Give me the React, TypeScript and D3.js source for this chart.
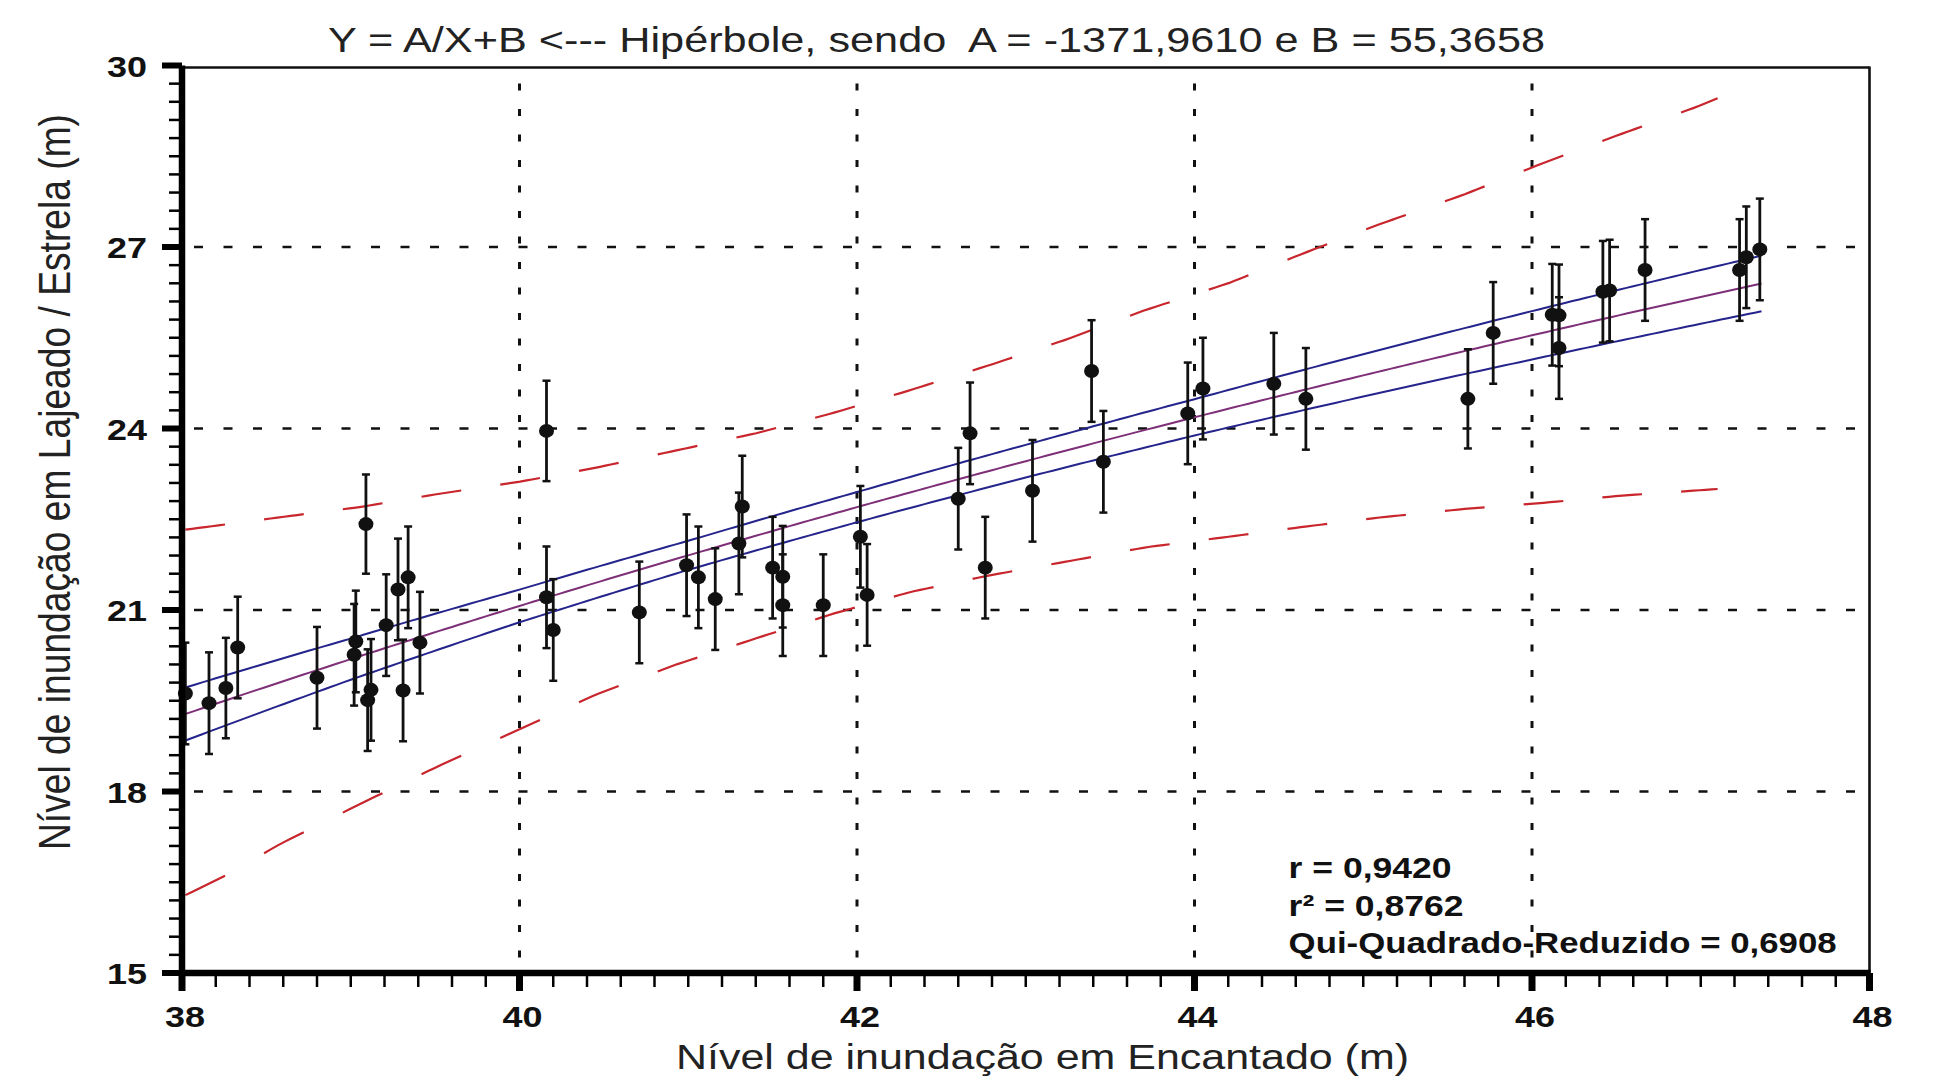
import React from 'react';
import * as d3 from 'd3';

const W = 1938;
const H = 1085;

// ---- data ----
const xTickValues = [38, 40, 42, 44, 46, 48];
const yTickValues = [15, 18, 21, 24, 27, 30];

const encantado = [
  38.02, 38.16, 38.26, 38.33, 38.8, 39.03, 39.02, 39.09, 39.1, 39.12,
  39.21, 39.28, 39.34, 39.31, 39.41, 40.16, 40.16, 40.2, 40.71, 40.99,
  41.06, 41.16, 41.32, 41.3, 41.5, 41.56, 41.56, 41.8, 42.02, 42.06,
  42.6, 42.67, 42.76, 43.04, 43.39, 43.46, 43.96, 44.05, 44.47, 44.66,
  45.62, 45.77, 46.12, 46.16, 46.16, 46.42, 46.46, 46.67, 47.23, 47.27,
  47.35,
];
const lajeado = [
  19.62, 19.46, 19.71, 20.38, 19.88, 20.48, 20.26, 22.42, 19.51, 19.68,
  20.75, 21.34, 21.54, 19.67, 20.46, 23.96, 21.21, 20.67, 20.96, 21.74,
  21.54, 21.18, 22.71, 22.1, 21.7, 21.55, 21.08, 21.08, 22.21, 21.25,
  22.84, 23.92, 21.7, 22.97, 24.95, 23.45, 24.25, 24.66, 24.74, 24.49,
  24.49, 25.58, 25.88, 25.87, 25.33, 26.26, 26.28, 26.62, 26.62, 26.83,
  26.96,
];
const errBars = [
  0.84, 0.84, 0.83, 0.84, 0.84, 0.84, 0.84, 0.82, 0.84, 0.84,
  0.84, 0.84, 0.84, 0.84, 0.84, 0.83, 0.84, 0.84, 0.84, 0.84,
  0.84, 0.84, 0.84, 0.84, 0.84, 0.84, 0.84, 0.84, 0.84, 0.84,
  0.84, 0.84, 0.84, 0.84, 0.84, 0.84, 0.84, 0.84, 0.84, 0.84,
  0.82, 0.84, 0.84, 0.84, 0.84, 0.84, 0.84, 0.84, 0.84, 0.84,
  0.84,
];

const fitA = -1371.961;
const fitB = 55.3658;
const fitXMin = 38;
const fitXMax = 47.36;

// confidence band half-width
const bandX = [38, 39, 40, 41, 42, 43, 44, 45, 46, 47.36];
const bandHalf = [0.44, 0.34, 0.27, 0.24, 0.25, 0.27, 0.3, 0.35, 0.4, 0.46];

// prediction band (red dashed)
const predUpperX = [38, 38.6, 39.05, 39.5, 40, 40.45, 40.9, 41.4, 41.85, 42.3, 42.8, 43.25, 43.7, 44.2, 44.65, 45.1, 45.6, 46.05, 46.5, 46.98, 47.1];
const predUpperY = [22.32, 22.54, 22.7, 22.91, 23.12, 23.35, 23.62, 23.92, 24.25, 24.62, 25.06, 25.48, 25.95, 26.4, 26.9, 27.38, 27.87, 28.37, 28.84, 29.32, 29.46];
const predLowerX = [38, 38.25, 38.58, 39.06, 39.52, 40, 40.45, 40.93, 41.4, 41.86, 42.32, 42.78, 43.26, 43.72, 44.2, 44.66, 45.1, 45.6, 46.06, 46.53, 47.1];
const predLowerY = [16.26, 16.6, 17.13, 17.8, 18.42, 19.03, 19.6, 20.1, 20.53, 20.94, 21.3, 21.57, 21.81, 22.04, 22.21, 22.38, 22.53, 22.67, 22.77, 22.89, 23.0];

const titleText = 'Y = A/X+B <--- Hipérbole, sendo  A = -1371,9610 e B = 55,3658';
const xLabel = 'Nível de inundação em Encantado (m)';
const yLabel = 'Nível de inundação em Lajeado / Estrela (m)';
const statLines = ['r = 0,9420', 'r² = 0,8762', 'Qui-Quadrado-Reduzido = 0,6908'];
const statWidths = [163, 175, 548];

const FONT = '"Liberation Sans", Arial, Helvetica, sans-serif';

export default function App() {
  const x = d3.scaleLinear().domain([38, 48]).range([182, 1869.5]);
  const y = d3.scaleLinear().domain([15, 30]).range([973, 65.5]);

  const left = x(38);
  const right = x(48);
  const top = y(30);
  const bottom = y(15);

  const fit = (v: number) => fitA / v + fitB;
  const halfW = d3.scaleLinear().domain(bandX).range(bandHalf);
  const upperP = d3.scaleLinear().domain(predUpperX).range(predUpperY);
  const lowerP = d3.scaleLinear().domain(predLowerX).range(predLowerY);

  const xs = d3.range(fitXMin, fitXMax + 1e-9, 0.04);
  const line = d3
    .line<[number, number]>()
    .x((d) => x(d[0]))
    .y((d) => y(d[1]));

  const fitPath = line(xs.map((v) => [v, fit(v)]));
  const upPath = line(xs.map((v) => [v, fit(v) + halfW(v)]));
  const loPath = line(xs.map((v) => [v, fit(v) - halfW(v)]));

  // red dashes in x-space
  const dashStarts = d3.range(38.02, 47.1, 0.4665);
  const dashLen = 0.235;
  const dashSegs = (f: (v: number) => number, xmax: number) =>
    dashStarts.map((s) => {
      const e = Math.min(s + dashLen, xmax);
      const pts = d3.range(0, 7).map((i) => {
        const v = s + ((e - s) * i) / 6;
        return [v, f(v)] as [number, number];
      });
      return line(pts);
    });
  const upperDashes = dashSegs(upperP, 47.1);
  const lowerDashes = dashSegs(lowerP, 47.1);

  const yMinor = d3.range(15, 30.0001, 0.3).filter((v) => !yTickValues.some((t) => Math.abs(t - v) < 1e-6));
  const xMinor = d3.range(38, 48.0001, 0.2).filter((v) => !xTickValues.some((t) => Math.abs(t - v) < 1e-6));

  const gridX = xTickValues.filter((v) => v > 38 && v < 48);
  const gridY = yTickValues.filter((v) => v > 15 && v < 30);

  const redColor = '#c8262c';
  const blueColor = '#24248c';
  const fitColor = '#7e2f78';

  return (
    <svg
      width={W}
      height={H}
      viewBox={`0 0 ${W} ${H}`}
      style={{ position: 'absolute', left: 0, top: 0, display: 'block', background: '#fff' }}
    >
      <rect x={0} y={0} width={W} height={H} fill="#fff" />
      <defs>
        <clipPath id="plotClip">
          <rect x={left} y={top} width={right - left} height={bottom - top} />
        </clipPath>
      </defs>

      {/* grid */}
      <g stroke="#111" fill="none">
        {gridY.map((v) => (
          <line key={'gy' + v} x1={left + 12} x2={right - 6} y1={y(v)} y2={y(v)} strokeWidth={2.6} strokeDasharray="9 20.5" />
        ))}
        {gridX.map((v) => (
          <line key={'gx' + v} x1={x(v)} x2={x(v)} y1={top + 18} y2={bottom} strokeWidth={3} strokeDasharray="7 18.5" />
        ))}
      </g>

      <g clipPath="url(#plotClip)" fill="none">
        {/* prediction band */}
        {upperDashes.map((d, i) => (
          <path key={'ud' + i} d={d || ''} stroke={redColor} strokeWidth={2.2} />
        ))}
        {lowerDashes.map((d, i) => (
          <path key={'ld' + i} d={d || ''} stroke={redColor} strokeWidth={2.2} />
        ))}
        {/* confidence band */}
        <path d={upPath || ''} stroke={blueColor} strokeWidth={2} />
        <path d={loPath || ''} stroke={blueColor} strokeWidth={2} />
        {/* fit */}
        <path d={fitPath || ''} stroke={fitColor} strokeWidth={2} />
      </g>

      {/* error bars and points */}
      <g stroke="#111" strokeWidth={2.8}>
        {encantado.map((xv, i) => {
          const cx = x(xv);
          const y1 = y(lajeado[i] + errBars[i]);
          const y2 = y(lajeado[i] - errBars[i]);
          return (
            <g key={'e' + i}>
              <line x1={cx} x2={cx} y1={y1} y2={y2} />
              <line x1={cx - 4} x2={cx + 4} y1={y1} y2={y1} strokeWidth={2.5} />
              <line x1={cx - 4} x2={cx + 4} y1={y2} y2={y2} strokeWidth={2.5} />
            </g>
          );
        })}
      </g>
      <g fill="#111">
        {encantado.map((xv, i) => (
          <ellipse key={'p' + i} cx={x(xv)} cy={y(lajeado[i])} rx={7.5} ry={7} />
        ))}
      </g>

      {/* frame */}
      <line x1={left} x2={right} y1={top + 2} y2={top + 2} stroke="#111" strokeWidth={2.6} />
      <line x1={right} x2={right} y1={top + 1} y2={bottom} stroke="#111" strokeWidth={2.6} />
      <line x1={left} x2={left} y1={top} y2={bottom + 3} stroke="#000" strokeWidth={6.5} />
      <line x1={left - 3} x2={right + 1} y1={bottom} y2={bottom} stroke="#000" strokeWidth={6.5} />

      {/* y ticks */}
      <g stroke="#000">
        {yMinor.map((v) => (
          <line key={'ym' + v} x1={left - 13} x2={left} y1={y(v)} y2={y(v)} strokeWidth={2.5} />
        ))}
        {yTickValues.map((v) => (
          <line key={'yM' + v} x1={left - 20} x2={left} y1={y(v)} y2={y(v)} strokeWidth={6} />
        ))}
        {xMinor.map((v) => (
          <line key={'xm' + v} x1={x(v)} x2={x(v)} y1={bottom} y2={bottom + 14} strokeWidth={2.5} />
        ))}
        {xTickValues.map((v) => (
          <line key={'xM' + v} x1={x(v)} x2={x(v)} y1={bottom} y2={bottom + 18} strokeWidth={7} />
        ))}
      </g>

      {/* tick labels */}
      <g fontFamily={FONT} fontWeight="bold" fontSize={30} fill="#111">
        {yTickValues.map((v) => (
          <text key={'yl' + v} x={left - 35} y={y(v) + 11} textAnchor="end" textLength={40} lengthAdjust="spacingAndGlyphs">
            {String(v)}
          </text>
        ))}
        {xTickValues.map((v) => (
          <text key={'xl' + v} x={x(v) + 3} y={1027} textAnchor="middle" textLength={40} lengthAdjust="spacingAndGlyphs">
            {String(v)}
          </text>
        ))}
      </g>

      {/* title */}
      <text
        x={328}
        y={52}
        fontFamily={FONT}
        fontSize={35}
        fill="#222"
        textLength={1217}
        lengthAdjust="spacingAndGlyphs"
        style={{ whiteSpace: 'pre' }}
      >
        {titleText}
      </text>

      {/* x label */}
      <text x={676} y={1069} fontFamily={FONT} fontSize={35} fill="#222" textLength={733} lengthAdjust="spacingAndGlyphs">
        {xLabel}
      </text>

      {/* y label */}
      <g transform="translate(70,482) scale(1.25,1) rotate(-90)">
        <text x={0} y={0} textAnchor="middle" fontFamily={FONT} fontSize={36} fill="#222" textLength={736} lengthAdjust="spacingAndGlyphs">
          {yLabel}
        </text>
      </g>

      {/* stats */}
      <g fontFamily={FONT} fontWeight="bold" fontSize={30} fill="#111">
        {statLines.map((s, i) => (
          <text key={'s' + i} x={1288.6} y={878 + i * 37.6} textLength={statWidths[i]} lengthAdjust="spacingAndGlyphs">
            {s}
          </text>
        ))}
      </g>
    </svg>
  );
}
